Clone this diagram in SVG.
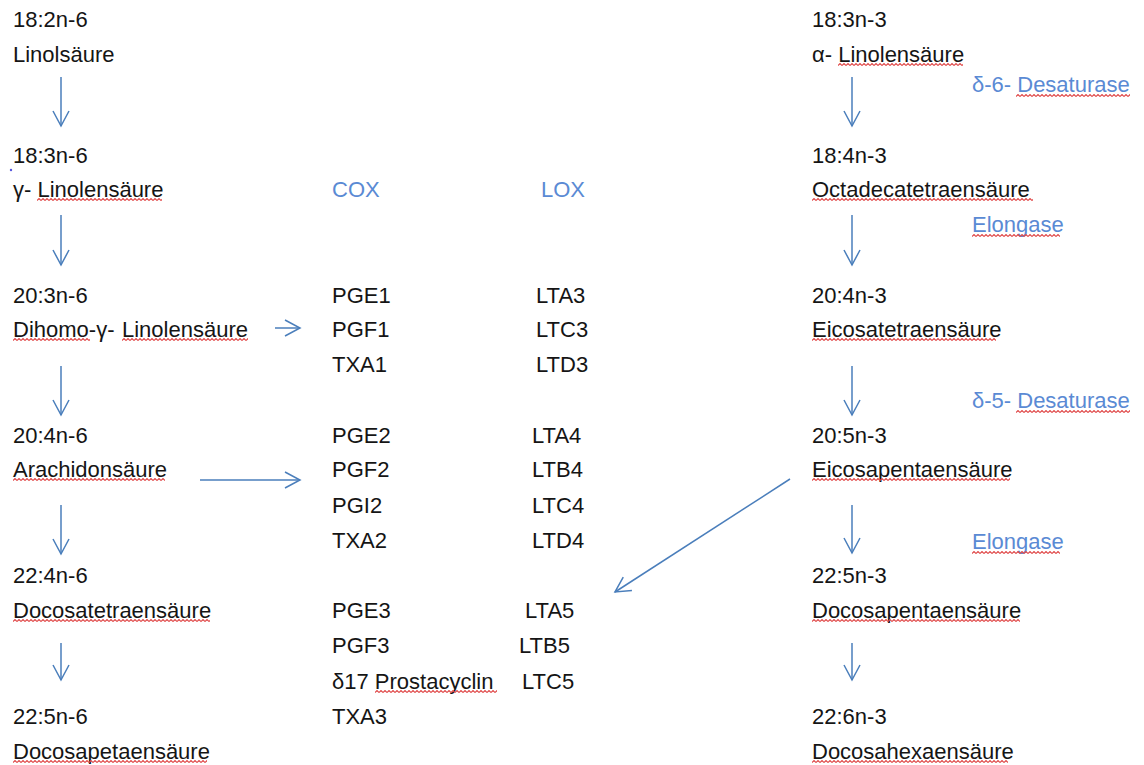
<svg xmlns="http://www.w3.org/2000/svg" width="1144" height="765" viewBox="0 0 1144 765">
<style>
text{font-family:"Liberation Sans",Arial,sans-serif;font-size:22px;fill:#151515}
.b{fill:#5A8AD4}
.c{stroke:#4A7EBB;stroke-width:1.5;fill:none}
.w{fill:url(#wave)}
</style>
<defs>
<pattern id="wave" width="4" height="3" patternUnits="userSpaceOnUse"><path d="M0,2.5 L2,0.5 L4,2.5" fill="none" stroke="#E04848" stroke-width="1.1"/></pattern>
<marker id="ah" markerUnits="userSpaceOnUse" viewBox="-17 -10 20 20" markerWidth="20" markerHeight="20" refX="0" refY="0" orient="auto"><path d="M-15,-8 L0,0 L-15,8" fill="none" stroke="#4A7EBB" stroke-width="1.5"/></marker>
</defs>
<rect width="1144" height="765" fill="#fff"/>

<g id="n6-1"><text x="13" y="27">18:2n-6</text><text x="13" y="62">Linolsäure</text></g>
<g id="n6-2"><text x="13" y="163">18:3n-6</text><text x="13" y="197">γ- Linolensäure</text><rect class="w" transform="translate(37,198)" width="125" height="3"/></g>
<g id="n6-3"><text x="13" y="303">20:3n-6</text><text x="13" y="337">Dihomo-γ-<tspan x="122">Linolensäure</tspan></text><rect class="w" transform="translate(13,338)" width="77" height="3"/><rect class="w" transform="translate(122,338)" width="126" height="3"/></g>
<g id="n6-4"><text x="13" y="443">20:4n-6</text><text x="13" y="477">Arachidonsäure</text><rect class="w" transform="translate(13,478)" width="152" height="3"/></g>
<g id="n6-5"><text x="13" y="583">22:4n-6</text><text x="13" y="618">Docosatetraensäure</text><rect class="w" transform="translate(13,619)" width="197" height="3"/></g>
<g id="n6-6"><text x="13" y="724">22:5n-6</text><text x="13" y="759">Docosapetaensäure</text><rect class="w" transform="translate(13,760)" width="194" height="3"/></g>
<circle cx="11" cy="170" r="1.2" fill="#5555dd"/>

<g id="cox"><text class="b" x="332" y="197">COX</text></g>
<g id="lox"><text class="b" x="541" y="197">LOX</text></g>

<g id="series1"><text x="332" y="303">PGE1</text><text x="332" y="337">PGF1</text><text x="332" y="372">TXA1</text>
<text x="536" y="303">LTA3</text><text x="536" y="337">LTC3</text><text x="536" y="372">LTD3</text></g>
<g id="series2"><text x="332" y="443">PGE2</text><text x="332" y="477">PGF2</text><text x="332" y="513">PGI2</text><text x="332" y="548">TXA2</text>
<text x="532" y="443">LTA4</text><text x="532" y="477">LTB4</text><text x="532" y="513">LTC4</text><text x="532" y="548">LTD4</text></g>
<g id="series3"><text x="332" y="618">PGE3</text><text x="332" y="653">PGF3</text><text x="332" y="689">δ17 Prostacyclin</text><text x="332" y="724">TXA3</text>
<rect class="w" transform="translate(375,690)" width="122" height="3"/>
<text x="525" y="618">LTA5</text><text x="519" y="653">LTB5</text><text x="522" y="689">LTC5</text></g>

<g id="n3-1"><text x="812" y="27">18:3n-3</text><text x="812" y="62">α- Linolensäure</text><rect class="w" transform="translate(838,63)" width="125" height="3"/></g>
<g id="n3-2"><text x="812" y="163">18:4n-3</text><text x="812" y="197">Octadecatetraensäure</text><rect class="w" transform="translate(812,198)" width="221" height="3"/></g>
<g id="n3-3"><text x="812" y="303">20:4n-3</text><text x="812" y="337">Eicosatetraensäure</text><rect class="w" transform="translate(812,338)" width="184" height="3"/></g>
<g id="n3-4"><text x="812" y="443">20:5n-3</text><text x="812" y="477">Eicosapentaensäure</text><rect class="w" transform="translate(812,478)" width="198" height="3"/></g>
<g id="n3-5"><text x="812" y="583">22:5n-3</text><text x="812" y="618">Docosapentaensäure</text><rect class="w" transform="translate(812,619)" width="208" height="3"/></g>
<g id="n3-6"><text x="812" y="724">22:6n-3</text><text x="812" y="759">Docosahexaensäure</text><rect class="w" transform="translate(812,760)" width="196" height="3"/></g>

<g id="enz1"><text class="b" x="972" y="92">δ-6- Desaturase</text><rect class="w" transform="translate(1016,94)" width="114" height="3"/></g>
<g id="enz2"><text class="b" x="972" y="232">Elongase</text><rect class="w" transform="translate(972,234)" width="88" height="3"/></g>
<g id="enz3"><text class="b" x="972" y="408">δ-5- Desaturase</text><rect class="w" transform="translate(1016,410)" width="114" height="3"/></g>
<g id="enz4"><text class="b" x="972" y="549">Elongase</text><rect class="w" transform="translate(972,551)" width="88" height="3"/></g>

<g id="connectors">
<line class="c" x1="61" y1="77" x2="61" y2="126" marker-end="url(#ah)"/>
<line class="c" x1="61" y1="215" x2="61" y2="265" marker-end="url(#ah)"/>
<line class="c" x1="61" y1="366" x2="61" y2="415" marker-end="url(#ah)"/>
<line class="c" x1="61" y1="505" x2="61" y2="554" marker-end="url(#ah)"/>
<line class="c" x1="61" y1="643" x2="61" y2="680" marker-end="url(#ah)"/>
<line class="c" x1="852" y1="77" x2="852" y2="126" marker-end="url(#ah)"/>
<line class="c" x1="852" y1="215" x2="852" y2="265" marker-end="url(#ah)"/>
<line class="c" x1="852" y1="366" x2="852" y2="415" marker-end="url(#ah)"/>
<line class="c" x1="852" y1="505" x2="852" y2="553" marker-end="url(#ah)"/>
<line class="c" x1="852" y1="643" x2="852" y2="680" marker-end="url(#ah)"/>
<line class="c" x1="275" y1="328" x2="300" y2="328" marker-end="url(#ah)"/>
<line class="c" x1="200" y1="480" x2="300" y2="480" marker-end="url(#ah)"/>
<line class="c" x1="790" y1="479" x2="615" y2="592" marker-end="url(#ah)"/>
</g>
</svg>
